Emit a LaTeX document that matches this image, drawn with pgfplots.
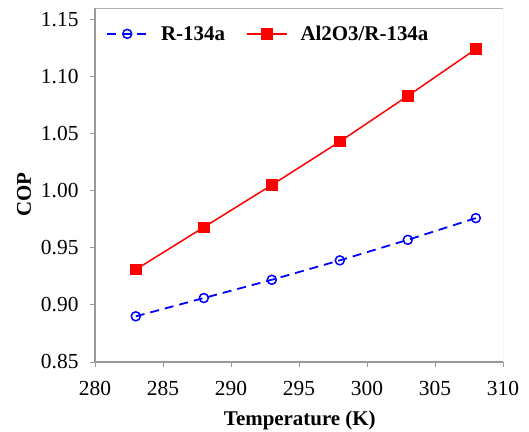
\documentclass[border=0pt]{standalone}
\usepackage{fontspec}
\setmainfont{Liberation Serif}
\usepackage{pgfplots}
\pgfplotsset{compat=1.18}

\begin{document}
\begin{tikzpicture}
\path[use as bounding box] (-95bp,-70bp) rectangle (434bp,362bp);
\begin{axis}[
  scale only axis,
  width=408bp, height=354bp,
  xmin=280, xmax=310,
  ymin=0.85, ymax=1.16,
  xtick={280,285,...,310},
  ytick={0.85,0.90,...,1.16},
  axis line style={gray!80, line width=1.2pt},
  axis x line*=bottom, axis y line*=left,
  every outer x axis line/.append style={-},
  every outer y axis line/.append style={-},
  tick align=outside,
  major tick length=5bp,
  tick style={gray!80, line width=1pt},
  font=\fontsize{21.5}{25}\selectfont,
  /pgf/number format/assume math mode=true,
  xticklabel={\pgfmathprintnumber[fixed, precision=0, set thousands separator={}]{\tick}},
  yticklabel={\pgfmathprintnumber[fixed, fixed zerofill, precision=2]{\tick}},
  yticklabel style={xshift=-8bp},
  xticklabel style={yshift=-11bp},
  xlabel={\bfseries Temperature (K)},
  ylabel={\bfseries COP},
  xlabel style={font=\fontsize{21}{25}\selectfont, at={(axis description cs:0.502,-0.165)}, anchor=center},
  ylabel style={font=\fontsize{21}{25}\selectfont, at={(axis description cs:-0.174,0.472)}, anchor=center},
  legend columns=2,
  legend style={draw=none, fill=none, at={(axis description cs:0.02,0.927)},
    anchor=west, font=\fontsize{21}{24}\selectfont\bfseries,
    /tikz/every odd column/.append style={column sep=11bp},
    /tikz/every even column/.append style={column sep=19bp}},
  legend image code/.code={%
    \draw[mark repeat=2, mark phase=2] plot coordinates {(0bp,0bp)(20bp,0bp)(40bp,0bp)};},
]
\addplot[blue, line width=1.8pt, dash pattern=on 9bp off 6bp,
  mark=o, mark size=4.5bp, mark options={solid, line width=1.5pt}]
  coordinates {(283,0.890)(288,0.906)(293,0.922)(298,0.939)(303,0.957)(308,0.976)};
\addlegendentry{R-134a}
\addplot[red, line width=1.5pt,
  mark=square*, mark size=5bp, mark options={solid}]
  coordinates {(283,0.931)(288,0.968)(293,1.005)(298,1.043)(303,1.083)(308,1.124)};
\addlegendentry{Al2O3/R-134a}
% plot area border on top and right
\draw[gray!60, line width=0.8pt] (rel axis cs:0,1) -- (rel axis cs:1,1) -- (rel axis cs:1,0);
\end{axis}
\end{tikzpicture}
\end{document}
